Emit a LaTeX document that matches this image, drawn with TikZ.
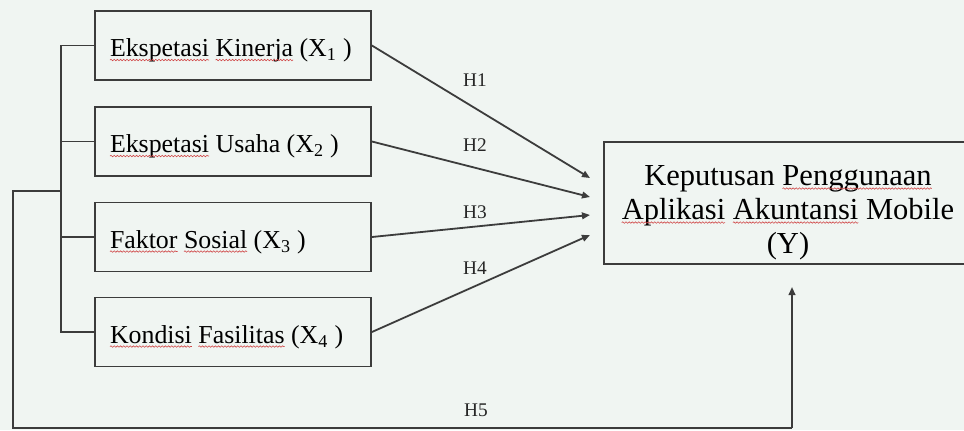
\documentclass[tikz,border=0pt]{standalone}
\usepackage{fontspec}
\setmainfont{Liberation Serif}
\usetikzlibrary{arrows.meta,decorations.pathmorphing}
\definecolor{bgc}{HTML}{F0F5F2}
\definecolor{linec}{HTML}{3C3C3C}
\definecolor{wavec}{HTML}{D04848}
\newcommand\wv[1]{\tikz[baseline=(w.base)]{%
  \node[draw=none,fill=none,inner sep=0pt,outer sep=0pt,minimum width=0pt,minimum height=0pt,text width=,text height=,text depth=,text=black] (w) {#1};%
  \draw[overlay,draw=wavec,line width=0.45pt,decorate,decoration={snake,amplitude=0.55pt,segment length=2.4pt}]
    ([yshift=-2.6pt]w.base west) -- ([yshift=-2.6pt]w.base east);}}
\tikzset{
  conn/.style={draw=linec, line width=1.35pt},
  arr/.style={conn, -{Triangle[length=6pt,width=5pt]}},
  varbox/.style={draw=linec, line width=1.35pt, rectangle, minimum width=207pt, minimum height=51.75pt,
    inner xsep=11.25pt, text width=184.5pt, text height=20.8pt, text depth=4.2pt,
    align=flush left, font=\fontsize{19.4}{23}\selectfont, text=black},
  ybox/.style={draw=linec, line width=1.35pt, rectangle, minimum width=276pt, minimum height=91.5pt,
    align=center, font=\fontsize{22.9}{25.5}\selectfont, text=black},
  hlab/.style={font=\fontsize{14.5}{16}\selectfont, text=black!85, inner sep=0pt}
}
\begin{document}
\begin{tikzpicture}[x=0.75pt,y=-0.75pt]
\useasboundingbox (0,0) rectangle (964,430);
\fill[bgc] (0,0) rectangle (964,430);
\clip (0,0) rectangle (964,430);

\node[varbox] (x1) at (233,45.5) {\mbox{\wv{Ekspetasi} \wv{Kinerja} (X\textsubscript{1} )}};
\node[varbox] (x2) at (233,141.5) {\mbox{\wv{Ekspetasi} Usaha (X\textsubscript{2} )}};
\node[varbox] (x3) at (233,237) {\mbox{\wv{Faktor} \wv{Sosial} (X\textsubscript{3} )}};
\node[varbox] (x4) at (233,332) {\mbox{\wv{Kondisi} \wv{Fasilitas} (X\textsubscript{4} )}};

\node[ybox] (y) at (788,203) {\rule{0pt}{29pt}Keputusan \wv{Penggunaan}\\ \wv{Aplikasi} \wv{Akuntansi} Mobile\\ (Y)};

% arrow end points
\coordinate (e1) at (590,178);
\coordinate (e2) at (590,197);
\coordinate (e3) at (590,215);
\coordinate (e4) at (590,235);

\draw[arr] (x1.east) -- (e1);
\draw[arr] (x2.east) -- (e2);
\draw[arr] (x3.east) -- (e3);
\draw[arr] (x4.east) -- (e4);

\node[hlab] (h1) at (475,80) {H1};
\node[hlab] (h2) at (475,145) {H2};
\node[hlab] (h3) at (475,212) {H3};
\node[hlab] (h4) at (475,268) {H4};
\node[hlab] (h5) at (476,410) {H5};

% bracket on the left
\coordinate (b1) at (61,45.5);
\coordinate (b4) at (61,332);
\coordinate (bj) at (61,191);
\draw[conn] (x1.west) -- (b1) -- (b4) -- (x4.west);
\draw[conn] (x2.west) -- (61,141.5);
\draw[conn] (x3.west) -- (61,237);

% H5 path
\coordinate (o1) at (13,191);
\coordinate (o2) at (13,428);
\coordinate (o3) at (792,428);
\coordinate (o4) at (792,287);
\draw[conn] (bj) -- (o1) -- (o2) -- (o3);
\draw[arr] (o3) -- (o4);
\end{tikzpicture}
\end{document}
